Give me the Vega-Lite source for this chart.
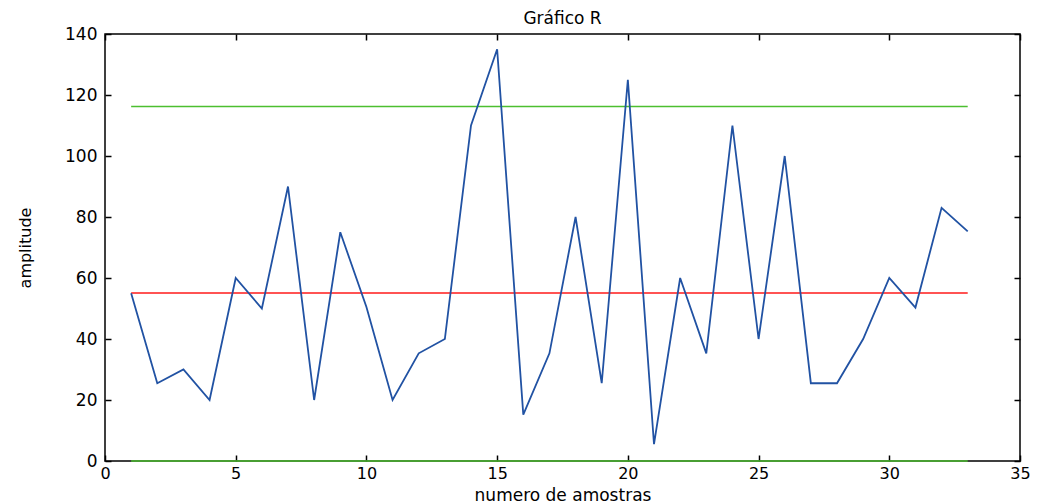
{
  "$schema": "https://vega.github.io/schema/vega-lite/v6.json",
  "width": 915,
  "height": 427,
  "autosize": {"type": "none"},
  "padding": {"left": 105, "top": 34, "right": 27, "bottom": 43},
  "background": "white",
  "config": {
    "view": {"stroke": "black", "strokeWidth": 1.5},
    "axis": {"grid": false, "domain": false, "tickColor": "black", "labelColor": "black", "labelFont": "DejaVu Sans", "labelFontSize": 17, "titleFont": "DejaVu Sans", "titleFontWeight": "normal", "titleColor": "black", "titleFontSize": 17}
  },
  "title": {"text": "Gráfico R", "font": "DejaVu Sans", "fontSize": 17, "fontWeight": "normal", "color": "black", "offset": -3},
  "datasets": {
    "r": [
      {"n": 1, "R": 55}, {"n": 2, "R": 25.5}, {"n": 3, "R": 30}, {"n": 4, "R": 20}, {"n": 5, "R": 60},
      {"n": 6, "R": 50}, {"n": 7, "R": 90}, {"n": 8, "R": 20}, {"n": 9, "R": 75}, {"n": 10, "R": 50.5},
      {"n": 11, "R": 20}, {"n": 12, "R": 35.3}, {"n": 13, "R": 40}, {"n": 14, "R": 110}, {"n": 15, "R": 135},
      {"n": 16, "R": 15.2}, {"n": 17, "R": 35.3}, {"n": 18, "R": 80}, {"n": 19, "R": 25.5}, {"n": 20, "R": 125},
      {"n": 21, "R": 5.5}, {"n": 22, "R": 60}, {"n": 23, "R": 35.3}, {"n": 24, "R": 110}, {"n": 25, "R": 40},
      {"n": 26, "R": 100}, {"n": 27, "R": 25.5}, {"n": 28, "R": 25.5}, {"n": 29, "R": 40}, {"n": 30, "R": 60},
      {"n": 31, "R": 50.3}, {"n": 32, "R": 83}, {"n": 33, "R": 75.3}
    ],
    "limits": [
      {"n": 1, "v": 116.2, "k": "LSC"}, {"n": 33, "v": 116.2, "k": "LSC"},
      {"n": 1, "v": 55.1, "k": "LC"}, {"n": 33, "v": 55.1, "k": "LC"},
      {"n": 1, "v": 0, "k": "LIC"}, {"n": 33, "v": 0, "k": "LIC"}
    ]
  },
  "layer": [
    {
      "data": {"name": "limits"},
      "mark": {"type": "line", "strokeWidth": 1.5, "clip": false},
      "encoding": {
        "x": {"field": "n", "type": "quantitative", "scale": {"domain": [0, 35], "nice": false},
              "axis": {"orient": "top", "labels": false, "title": null, "values": [0, 5, 10, 15, 20, 25, 30, 35], "tickSize": -6, "tickWidth": 1.5}},
        "y": {"field": "v", "type": "quantitative", "scale": {"domain": [0, 140], "nice": false},
              "axis": {"orient": "right", "labels": false, "title": null, "values": [0, 20, 40, 60, 80, 100, 120, 140], "tickSize": -6, "tickWidth": 1.5}},
        "detail": {"field": "k"},
        "color": {"field": "k", "type": "nominal", "scale": {"domain": ["LSC", "LC", "LIC"], "range": ["#4cbf30", "#ff1a1a", "#4cbf30"]}, "legend": null}
      }
    },
    {
      "data": {"name": "r"},
      "mark": {"type": "line", "color": "#2152a3", "strokeWidth": 1.8},
      "encoding": {
        "x": {"field": "n", "type": "quantitative", "scale": {"domain": [0, 35], "nice": false},
              "axis": {"orient": "bottom", "title": "numero de amostras", "values": [0, 5, 10, 15, 20, 25, 30, 35], "tickSize": -6, "tickWidth": 1.5, "labelPadding": 10, "labelFontSize": 16, "titleFontSize": 17, "titleBaseline": "alphabetic", "titleY": 39, "labelFlush": false}},
        "y": {"field": "R", "type": "quantitative", "scale": {"domain": [0, 140], "nice": false},
              "axis": {"orient": "left", "title": "amplitude", "values": [0, 20, 40, 60, 80, 100, 120, 140], "tickSize": -6, "tickWidth": 1.5, "labelPadding": 14, "titleFontSize": 16, "titleBaseline": "alphabetic", "titleX": -75, "labelFlush": false}}
      }
    }
  ],
  "resolve": {"axis": {"x": "independent", "y": "independent"}}
}
